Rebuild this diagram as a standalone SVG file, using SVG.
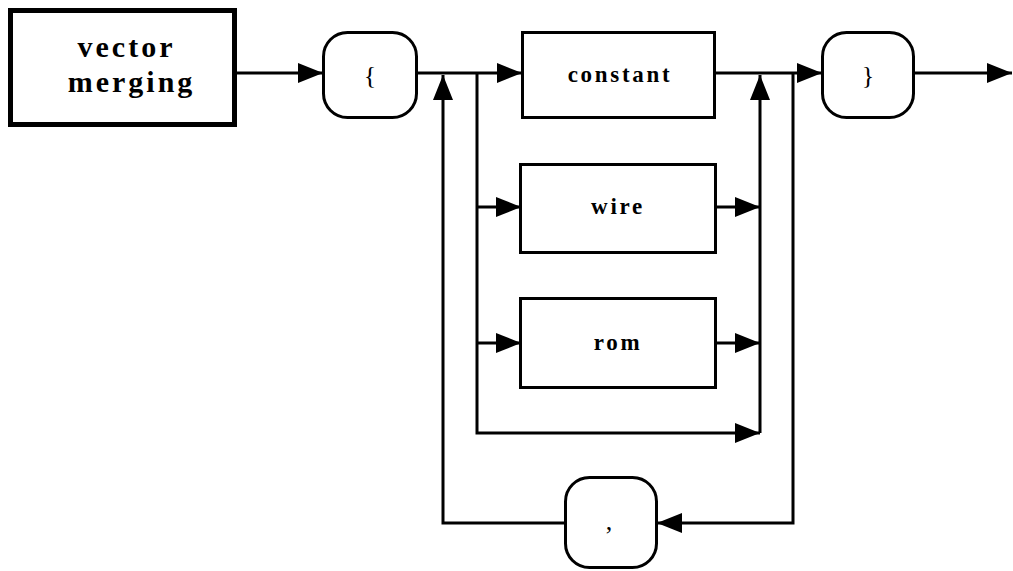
<svg xmlns="http://www.w3.org/2000/svg" width="1013" height="571" viewBox="0 0 1013 571">
<style>
.box{fill:#fff;stroke:#000;stroke-width:3}
.title{fill:#fff;stroke:#000;stroke-width:5}
.ln{fill:none;stroke:#000;stroke-width:3;stroke-linejoin:miter}
.lbl{font-family:"Liberation Serif",serif;font-weight:bold;font-size:23px;letter-spacing:2.7px;text-anchor:middle;fill:#000}
.big{font-family:"Liberation Serif",serif;font-weight:bold;font-size:30px;letter-spacing:3px;text-anchor:middle;fill:#000}
.sym{font-family:"Liberation Serif",serif;font-size:26px;text-anchor:middle;fill:#000}
</style>
<defs>
<marker id="ah" markerUnits="userSpaceOnUse" markerWidth="26" markerHeight="22" refX="25" refY="11" orient="auto" viewBox="0 0 26 22">
<path d="M0,1 L25,11 L0,21 Z" fill="#000"/>
</marker>
</defs>
<g id="connectors">
<path class="ln" d="M236,73 H323" marker-end="url(#ah)"/>
<path class="ln" d="M417,73 H522" marker-end="url(#ah)"/>
<path class="ln" d="M477,73 V433 H760" marker-end="url(#ah)"/>
<path class="ln" d="M477,207 H521" marker-end="url(#ah)"/>
<path class="ln" d="M477,343 H521" marker-end="url(#ah)"/>
<path class="ln" d="M715,207 H760" marker-end="url(#ah)"/>
<path class="ln" d="M715,343 H760" marker-end="url(#ah)"/>
<path class="ln" d="M760,433 V75" marker-end="url(#ah)"/>
<path class="ln" d="M714,73 H822" marker-end="url(#ah)"/>
<path class="ln" d="M793,73 V523 H657" marker-end="url(#ah)"/>
<path class="ln" d="M565,523 H443 V75" marker-end="url(#ah)"/>
<path class="ln" d="M914,73 H1012" marker-end="url(#ah)"/>
</g>
<g id="vector-merging">
<rect class="title" x="10.5" y="10.5" width="224" height="114"/>
<text class="big" x="126.5" y="57">vector</text>
<text class="big" x="131.5" y="92">merging</text>
</g>
<g id="open-brace">
<rect class="box" x="323.5" y="32.5" width="93" height="85" rx="24"/>
<text class="sym" x="370" y="84">{</text>
</g>
<g id="constant">
<rect class="box" x="522.5" y="32.5" width="192" height="85"/>
<text class="lbl" x="620" y="82">constant</text>
</g>
<g id="wire">
<rect class="box" x="520.5" y="164.5" width="195" height="88"/>
<text class="lbl" x="618" y="214">wire</text>
</g>
<g id="rom">
<rect class="box" x="520.5" y="298.5" width="195" height="89"/>
<text class="lbl" x="618" y="350">rom</text>
</g>
<g id="close-brace">
<rect class="box" x="822.5" y="32.5" width="91" height="85" rx="24"/>
<text class="sym" x="868" y="84">}</text>
</g>
<g id="comma">
<rect class="box" x="565.5" y="477.5" width="91" height="90" rx="24"/>
<text class="sym" x="609" y="530">,</text>
</g>
</svg>
